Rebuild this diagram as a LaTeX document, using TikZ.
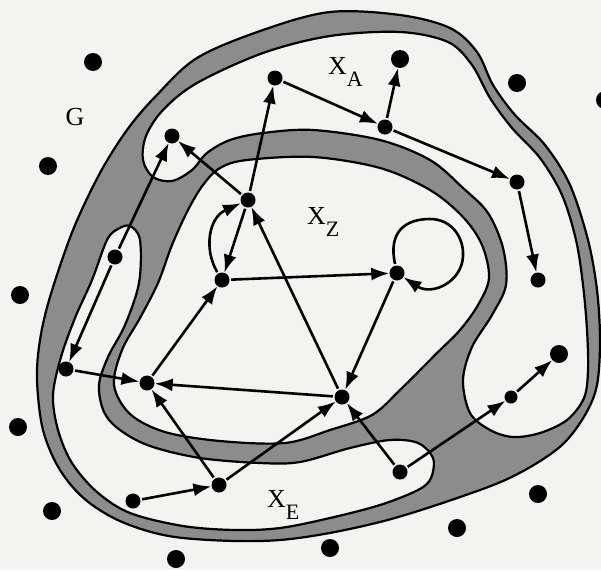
\documentclass[tikz,border=0pt]{standalone}
\usepackage{fontspec}
\setmainfont{Liberation Serif}
\usetikzlibrary{arrows.meta}
\definecolor{bg}{RGB}{243,243,241}
\definecolor{band}{RGB}{140,140,140}
\tikzset{
  region/.style={draw=black, line width=2.2pt, fill=bg},
  bandfill/.style={draw=black, line width=2.2pt, fill=band},
  dot/.style={circle, fill=black, inner sep=0pt, minimum size=15pt},
  bigdot/.style={dot, minimum size=18pt},
  arr/.style={line width=2.6pt, -{Latex[length=18pt,width=13pt]}, shorten <=1.5pt},
  lbl/.style={font=\fontsize{26}{26}\selectfont, inner sep=0pt},
}
\newcommand{\subl}[1]{\raisebox{-12pt}{\fontsize{22}{22}\selectfont #1}}
\begin{document}
\begin{tikzpicture}[x=1pt,y=-1pt]
\useasboundingbox (0,0) rectangle (601,570);
\fill[bg] (0,0) rectangle (601,570);

% outer gray blob
\path[bandfill] plot[smooth cycle, tension=0.55] coordinates {
 (330,12) (400,15) (450,28) (477,52) (493,85) (515,115) (545,145) (570,185)
 (588,240) (597,290) (600,340) (597,385) (585,415) (562,445) (525,470) (480,490)
 (380,522) (280,540) (183,538) (127,524) (87,501) (60,470) (43,430) (37,380)
 (40,340) (50,297) (73,230) (100,173) (127,130) (155,97) (197,58) (263,30)};

% X_A region
\path[region] plot[smooth cycle, tension=0.55] coordinates {
 (207,153) (230,140) (263,133) (313,130) (380,140) (430,160) (463,188) (488,213)
 (503,248) (506,285) (492,315) (472,347) (463,380) (470,413) (490,430) (513,437)
 (540,433) (567,420) (584,398) (588,370) (587,330) (583,285) (576,240) (562,195)
 (540,158) (512,128) (490,98) (472,65) (448,42) (400,32) (330,36) (263,53)
 (197,83) (163,110) (146,136) (143,160) (153,177) (172,181) (192,170)};

% X_E region
\path[region] plot[smooth cycle, tension=0.55] coordinates {
 (130,226) (140,240) (139,283) (125,325) (108,357) (99,385) (104,412) (120,430)
 (150,446) (200,458) (260,463) (300,462) (350,448) (390,440) (418,443) (433,458)
 (431,478) (418,490) (380,505) (330,518) (280,528) (235,530) (183,526) (130,513)
 (97,492) (72,463) (58,430) (53,395) (61,357) (75,318) (92,280) (107,240) (118,229)};

% X_Z region
\path[region] plot[smooth cycle, tension=0.55] coordinates {
 (220,168) (247,160) (313,157) (380,168) (430,190) (463,217) (482,245) (489,278)
 (478,305) (460,330) (437,353) (400,390) (372,415) (330,430) (285,443) (220,441)
 (165,432) (130,414) (114,385) (122,350) (140,318) (158,283) (172,245) (188,210)
 (203,185)};

% labels
\node[lbl] (lG) at (75,117) {G};
\node[lbl, anchor=base west] (lA) at (328,74) {X\subl{A}};
\node[lbl, anchor=base west] (lZ) at (307,224) {X\subl{Z}};
\node[lbl, anchor=base west] (lE) at (267,507) {X\subl{E}};

% outside dots
\node[bigdot] (g1) at (93,62) {};
\node[bigdot] (g2) at (48,166) {};
\node[bigdot] (g3) at (20,295) {};
\node[bigdot] (g4) at (18,427) {};
\node[bigdot] (g5) at (52,511) {};
\node[bigdot] (g6) at (176,559) {};
\node[bigdot] (g7) at (330,548) {};
\node[bigdot] (g8) at (457,528) {};
\node[bigdot] (g9) at (538,494) {};
\node[bigdot] (g10) at (517,83) {};
\node[bigdot] (g11) at (605,100) {};

% X_A dots
\node[dot] (a1) at (275,78) {};
\node[bigdot] (a2) at (400,59) {};
\node[dot] (a3) at (385,127) {};
\node[dot] (a4) at (517,182) {};
\node[dot] (a5) at (538,280) {};
\node[dot] (a6) at (172,136) {};
\node[dot, minimum size=13pt] (l1) at (511,397) {};
\node[bigdot] (l2) at (559,354) {};

% X_E dots
\node[dot] (e1) at (115,257) {};
\node[dot] (e2) at (66,369) {};
\node[dot] (e3) at (133,501) {};
\node[dot] (e4) at (219,485) {};
\node[dot] (e5) at (400,472) {};

% X_Z dots
\node[dot] (z1) at (248,200) {};
\node[dot] (z2) at (222,280) {};
\node[dot] (z3) at (397,273) {};
\node[dot] (z4) at (147,383) {};
\node[dot] (z5) at (342,397) {};

% edges
\draw[arr] (e1) -- (a6);
\draw[arr] (e1) -- (e2);
\draw[arr] (e2) -- (z4);
\draw[arr] (e3) -- (e4);
\draw[arr] (e4) -- (z4);
\draw[arr] (e4) -- (z5);
\draw[arr] (z5) -- (z4);
\draw[arr] (e5) -- (z5);
\draw[arr] (e5) -- (l1);
\draw[arr] (l1) -- (l2);
\draw[arr] (z3) -- (z5);
\draw[arr] (z5) -- (z1);
\draw[arr] (z2) -- (z3);
\draw[arr] (z4) -- (z2);
\draw[arr] (z1) -- (a1);
\draw[arr] (z1) -- (a6);
\draw[arr] (z1) -- (z2);
\draw[arr] (z2) .. controls (204,250) and (208,218) .. (z1);
\draw[arr] (a1) -- (a3);
\draw[arr] (a3) -- (a2);
\draw[arr] (a3) -- (a4);
\draw[arr] (a4) -- (a5);
\draw[arr] (z3) .. controls (388,232) and (405,219) .. (430,219)
  .. controls (452,219) and (464,238) .. (463,256)
  .. controls (462,282) and (432,296) .. (z3);
\end{tikzpicture}
\end{document}
